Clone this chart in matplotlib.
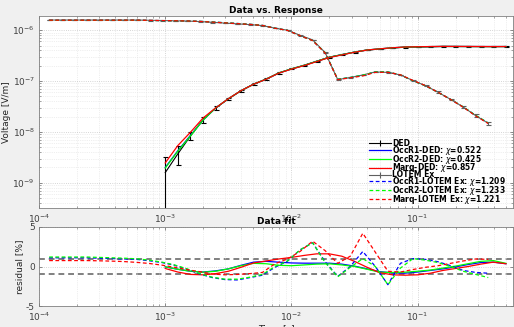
import numpy as np
from matplotlib import pyplot as plt
from matplotlib.lines import Line2D

# DED sounding: times and measured field (log10 V/m)
t_ded = np.logspace(-3, -0.3, 28)
ded_log = [-8.80, -8.43, -8.08, -7.76, -7.53, -7.35, -7.19, -7.06, -6.96, -6.84,
           -6.76, -6.69, -6.61, -6.53, -6.48, -6.43, -6.39, -6.37, -6.35, -6.335,
           -6.33, -6.325, -6.32, -6.32, -6.32, -6.32, -6.32, -6.32]
ded_err_rel = [1.0, 0.40, 0.18, 0.13, 0.08, 0.06, 0.05, 0.04, 0.03, 0.03,
               0.025, 0.025, 0.02, 0.02, 0.02, 0.02, 0.02, 0.02, 0.02, 0.02,
               0.02, 0.02, 0.02, 0.02, 0.02, 0.02, 0.02, 0.025]

# LOTEM Ex sounding
t_lotem = np.logspace(-3.92, -0.44, 36)
lotem_log = [-5.80, -5.80, -5.80, -5.80, -5.80, -5.80, -5.80, -5.80, -5.805, -5.81,
             -5.815, -5.82, -5.83, -5.845, -5.86, -5.875, -5.89, -5.91, -5.96, -6.00,
             -6.10, -6.19, -6.44, -6.97, -6.93, -6.88, -6.82, -6.83, -6.88, -6.99,
             -7.09, -7.22, -7.36, -7.51, -7.68, -7.83]
lotem_err_rel = [0.01] * 20 + [0.015] * 8 + [0.02, 0.025, 0.03, 0.035, 0.04, 0.05, 0.06, 0.08]

# residuals [%] of the three inversions
res_occr1_ded = [-0.05, -0.35, -0.6, -0.7, -0.55, -0.3, 0.15, 0.55, 0.65, 0.55,
                 0.45, 0.42, 0.42, 0.42, 0.3, 0.05, -0.3, -0.65, -0.8, -0.84,
                 -0.7, -0.5, -0.3, -0.05, 0.25, 0.5, 0.55, 0.35]
res_occr2_ded = [-0.04, -0.35, -0.6, -0.72, -0.6, -0.3, 0.1, 0.4, 0.35, 0.15,
                 0.1, 0.2, 0.3, 0.34, 0.2, 0.0, -0.35, -0.72, -0.75, -0.72,
                 -0.6, -0.45, -0.2, 0.05, 0.35, 0.65, 0.75, 0.4]
res_marq_ded = [-0.25, -0.7, -1.0, -1.05, -0.9, -0.6, -0.1, 0.45, 0.7, 0.95,
                1.15, 1.4, 1.6, 1.6, 1.3, 0.65, -0.1, -0.78, -1.05, -1.1,
                -1.05, -0.85, -0.5, -0.25, 0.0, 0.3, 0.55, 0.35]

res_occr1_lotem = [1.1, 1.1, 1.1, 1.1, 1.05, 1.0, 0.95, 0.9, 0.72, 0.5,
                   0.15, -0.35, -0.95, -1.4, -1.65, -1.7, -1.4, -1.1, -0.1, 0.68,
                   2.1, 3.0, 0.6, -1.25, 0.0, 1.9, 0.0, -2.3, 0.4, 1.0,
                   0.9, 0.6, 0.1, -0.5, -0.75, -0.85]
res_occr2_lotem = [1.2, 1.2, 1.2, 1.2, 1.15, 1.1, 1.05, 0.97, 0.8, 0.55,
                   0.2, -0.3, -0.9, -1.35, -1.6, -1.6, -1.35, -1.0, 0.0, 0.7,
                   2.1, 3.0, 0.5, -1.3, -0.1, 1.0, 0.0, -2.3, -0.2, 1.0,
                   0.8, 0.5, 0.0, -0.6, -1.0, -1.4]
res_marq_lotem = [0.75, 0.75, 0.75, 0.75, 0.72, 0.68, 0.62, 0.52, 0.38, 0.17,
                  -0.1, -0.4, -0.65, -0.95, -1.05, -1.0, -0.9, -0.75, 0.35, 0.95,
                  1.9, 3.2, 2.0, 0.4, 1.3, 4.2, 1.8, -0.6, -0.7, -0.38,
                  -0.1, 0.1, 0.4, 0.7, 0.95, 0.9]

# early-time misfit of the DED models (log10 units)
shift_occr1_ded = [0.10, 0.06, 0.01, -0.01]
shift_occr2_ded = [0.09, 0.05, 0.0, -0.01]
shift_marq_ded = [0.19, 0.16, 0.07, 0.03]

chi = {'OccR1-DED': 0.522, 'OccR2-DED': 0.425, 'Marq-DED': 0.857,
       'OccR1-LOTEM Ex': 1.209, 'OccR2-LOTEM Ex': 1.233, 'Marq-LOTEM Ex': 1.221}


def model_curve(data, res, shift=()):
    s = np.zeros(len(data))
    s[:len(shift)] = shift
    return data * (1 - np.array(res) / 100) * 10 ** s


ded = 10 ** np.array(ded_log)
lotem = 10 ** np.array(lotem_log)
ded_err = ded * np.array(ded_err_rel)
lotem_err = lotem * np.array(lotem_err_rel)

blue, green, red = '#0000ff', '#00ff00', '#ff0000'
bg = '#f0f0f0'
plt.rcParams['font.family'] = 'DejaVu Sans'
plt.rcParams['axes.unicode_minus'] = False

fig = plt.figure(figsize=(5.14, 3.27), dpi=100, facecolor=bg)
ax1 = fig.add_axes([0.076, 0.364, 0.922, 0.587])
ax2 = fig.add_axes([0.076, 0.064, 0.922, 0.242])

lw = 0.9
dash = (0, (3, 2))

# --- Data vs. Response ---
ax1.errorbar(t_ded, ded, yerr=[np.minimum(ded_err, ded * 0.9999), ded_err],
             color='k', lw=0.8, capsize=1.8, elinewidth=0.8, capthick=0.8, zorder=2)
ax1.plot(t_ded, model_curve(ded, res_occr1_ded, shift_occr1_ded), color=blue, lw=lw, zorder=3)
ax1.plot(t_ded, model_curve(ded, res_occr2_ded, shift_occr2_ded), color=green, lw=lw, zorder=3)
ax1.plot(t_ded, model_curve(ded, res_marq_ded, shift_marq_ded), color=red, lw=lw, zorder=3)
ax1.errorbar(t_lotem, lotem, yerr=lotem_err, color='#606060', lw=0.8, capsize=1.8,
             elinewidth=0.8, capthick=0.8, zorder=2)
ax1.plot(t_lotem, model_curve(lotem, res_occr1_lotem), color=blue, lw=lw, ls=dash, zorder=3)
ax1.plot(t_lotem, model_curve(lotem, res_occr2_lotem), color=green, lw=lw, ls=dash, zorder=3)
ax1.plot(t_lotem, model_curve(lotem, res_marq_lotem), color=red, lw=lw, ls=dash, zorder=3)

ax1.set_xscale('log')
ax1.set_yscale('log')
ax1.set_xlim(1e-4, 0.57)
ax1.set_ylim(3.2e-10, 1.9e-6)
ax1.set_yticks([1e-9, 1e-8, 1e-7, 1e-6])
ax1.set_ylabel('Voltage [V/m]', fontsize=6.5, color='#262626', labelpad=1)
ax1.set_title('Data vs. Response', fontsize=6.5, fontweight='bold', pad=2)

# legend entries
eb_k = Line2D([], [], color='k', lw=0.8, marker='|', markersize=5, mew=0.8)
eb_g = Line2D([], [], color='#606060', lw=0.8, marker='|', markersize=5, mew=0.8)
handles = [eb_k,
           Line2D([], [], color=blue, lw=lw),
           Line2D([], [], color=green, lw=lw),
           Line2D([], [], color=red, lw=lw),
           eb_g,
           Line2D([], [], color=blue, lw=lw, ls=dash),
           Line2D([], [], color=green, lw=lw, ls=dash),
           Line2D([], [], color=red, lw=lw, ls=dash)]
labels = ['DED'] + [f'{k}: $\\chi$={v:.3f}' for k, v in list(chi.items())[:3]] + \
         ['LOTEM Ex'] + [f'{k}: $\\chi$={v:.3f}' for k, v in list(chi.items())[3:]]
leg = ax1.legend(handles, labels, loc='upper left',
                 bbox_to_anchor=(369 / 514, 1 - 139 / 327),
                 bbox_transform=fig.transFigure,
                 frameon=False, prop={'size': 5.5, 'weight': 'bold'},
                 handlelength=2.9, handletextpad=0.15, labelspacing=-0.55,
                 borderpad=0, borderaxespad=0)

# --- Data fit ---
ax2.plot(t_ded, res_occr1_ded, color=blue, lw=lw)
ax2.plot(t_ded, res_occr2_ded, color=green, lw=lw)
ax2.plot(t_ded, res_marq_ded, color=red, lw=lw)
ax2.plot(t_lotem, res_occr1_lotem, color=blue, lw=lw, ls=dash)
ax2.plot(t_lotem, res_occr2_lotem, color=green, lw=lw, ls=dash)
ax2.plot(t_lotem, res_marq_lotem, color=red, lw=lw, ls=dash)
for level in (1, -1):
    ax2.axhline(level, color='#808080', lw=1.4, ls=(0, (3, 2)), zorder=1)

ax2.set_xscale('log')
ax2.set_xlim(1e-4, 0.57)
ax2.set_ylim(-5, 5)
ax2.set_yticks([-5, 0, 5])
ax2.set_ylabel('residual [%]', fontsize=6.5, color='#262626', labelpad=1)
ax2.set_xlabel('Time [s]', fontsize=6.5, color='#262626', labelpad=1)
ax2.set_title('Data fit', fontsize=6.5, fontweight='bold', pad=2)

for ax in (ax1, ax2):
    ax.set_facecolor('white')
    ax.grid(True, which='major', ls=':', color='#c8c8c8', lw=0.6)
    ax.grid(True, which='minor', ls=':', color='#e0e0e0', lw=0.5)
    ax.tick_params(which='both', direction='in', top=True, right=True,
                   labelsize=6.5, labelcolor='#404040', color='#606060', pad=3)
    ax.tick_params(which='major', length=2.5, width=0.5)
    ax.tick_params(which='minor', length=1.5, width=0.4)
    for sp in ax.spines.values():
        sp.set_color('#808080')
        sp.set_linewidth(0.6)

fig.savefig('out.png', dpi=100, facecolor=bg)
